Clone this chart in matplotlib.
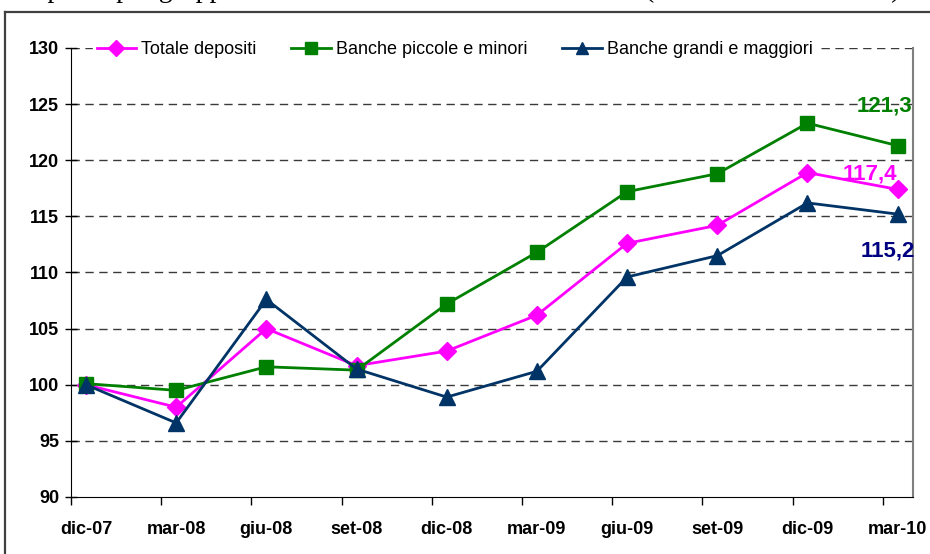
import matplotlib
matplotlib.use("Agg")
import matplotlib.pyplot as plt
from matplotlib.lines import Line2D

categories = ["dic-07", "mar-08", "giu-08", "set-08", "dic-08",
              "mar-09", "giu-09", "set-09", "dic-09", "mar-10"]
totale = [100.0, 98.0, 105.0, 101.7, 103.0, 106.2, 112.6, 114.2, 118.9, 117.4]
piccole = [100.1, 99.5, 101.6, 101.3, 107.2, 111.8, 117.2, 118.8, 123.3, 121.3]
grandi = [100.0, 96.6, 107.6, 101.4, 98.9, 101.2, 109.6, 111.5, 116.2, 115.2]
series_names = ["Totale depositi", "Banche piccole e minori", "Banche grandi e maggiori"]
yticks = [90, 95, 100, 105, 110, 115, 120, 125, 130]

W, H = 930, 554
fig = plt.figure(figsize=(W / 100, H / 100), dpi=100)
fig.patch.set_facecolor("white")

# cut-off title (only descenders visible)
fig.text(15 / W, 1 + 3.0 / H, "Depositi per gruppi dimensionali delle banche",
         family="Liberation Serif", fontsize=20, ha="left", va="baseline")
fig.text(900 / W, 1 + 3.0 / H, "(dicembre 2007 = 100)",
         family="Liberation Serif", fontsize=20, ha="right", va="baseline")

# outer frame
fig.add_artist(Line2D([5 / W, 5 / W], [0, 1 - 12 / H], transform=fig.transFigure,
                      color="#404040", lw=1.6))
fig.add_artist(Line2D([5 / W, 1], [1 - 12 / H, 1 - 12 / H], transform=fig.transFigure,
                      color="#404040", lw=1.6))

ax = fig.add_axes([71 / W, 1 - 497 / H, (913 - 71) / W, (497 - 48) / H])
x = list(range(len(categories)))

ax.set_ylim(90, 130)
ax.set_xlim(-0.166, 9.17)
for v in yticks[1:]:
    ax.axhline(v, color="#3a3a3a", lw=1.0, ls=(0, (6, 4)), zorder=1)

l1, = ax.plot(x, totale, color="#FF00FF", lw=2.0, marker="D", ms=9,
              markeredgecolor="#FF00FF", zorder=3, clip_on=False)
l2, = ax.plot(x, piccole, color="#008000", lw=2.0, marker="s", ms=9.5,
              markeredgecolor="#008000", zorder=3, clip_on=False)
l3, = ax.plot(x, grandi, color="#003366", lw=2.0, marker="^", ms=11,
              markeredgecolor="#003366", zorder=3, clip_on=False)

ax.set_yticks(yticks)
ax.set_yticklabels([str(v) for v in yticks])
ax.set_xticks(x)
ax.set_xticklabels(categories)
ax.set_xticks([i - 0.166 for i in x], minor=True)
ax.tick_params(axis="x", which="major", length=0, pad=17)
ax.tick_params(axis="x", which="minor", length=6, direction="out", width=1)
ax.tick_params(axis="y", which="major", length=9, direction="inout", width=1, pad=4)
for lab in ax.get_xticklabels() + ax.get_yticklabels():
    lab.set_fontfamily("Liberation Sans")
    lab.set_fontweight("bold")
    lab.set_fontsize(13)

ax.spines["top"].set_visible(False)
ax.spines["right"].set_color("#808080")
ax.spines["right"].set_linewidth(1.5)
ax.spines["left"].set_color("black")
ax.spines["bottom"].set_color("black")

# value labels
ax.text(8.85, 124.8, "121,3", color="#008000", fontsize=16, fontweight="bold",
        family="Liberation Sans", ha="center", va="center")
ax.text(8.69, 118.75, "117,4", color="#FF00FF", fontsize=16, fontweight="bold",
        family="Liberation Sans", ha="center", va="center")
ax.text(8.89, 111.9, "115,2", color="#000080", fontsize=16, fontweight="bold",
        family="Liberation Sans", ha="center", va="center")

leg = fig.legend([l1, l2, l3], series_names, loc="center left",
                 bbox_to_anchor=(93 / W, 1 - 50 / H), bbox_transform=fig.transFigure,
                 ncol=3, frameon=True, fancybox=False, framealpha=1,
                 facecolor="white", edgecolor="white", borderaxespad=0,
                 borderpad=0.2, handlelength=2.2, handletextpad=0.25,
                 columnspacing=1.95, prop={"family": "Liberation Sans", "size": 13})
for h in leg.legend_handles:
    h.set_markersize(8)

fig.savefig("out.png", dpi=100, facecolor="white")
